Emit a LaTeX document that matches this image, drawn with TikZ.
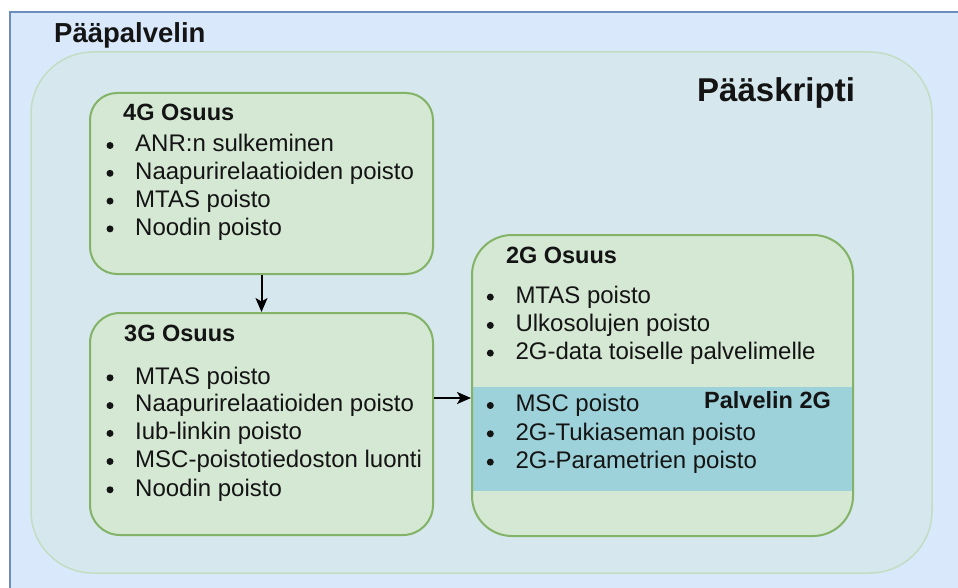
\documentclass[tikz,border=0pt]{standalone}
\usepackage{fontspec}
\setmainfont{Liberation Sans}
\usetikzlibrary{arrows.meta}

\definecolor{outerfill}{HTML}{DAE8FC}
\definecolor{outerline}{HTML}{6C8EBF}
\definecolor{scriptfill}{HTML}{D6E7EE}
\definecolor{scriptline}{HTML}{C3DDC3}
\definecolor{partfill}{HTML}{D5E8D4}
\definecolor{partline}{HTML}{82B366}
\definecolor{serverband}{HTML}{9ED2DA}
\definecolor{ink}{HTML}{141414}

\tikzset{
  partbox/.style={draw=partline, fill=partfill, line width=2pt,
    anchor=north west, inner sep=0pt},
  txt/.style={anchor=base west, inner sep=0pt, text=ink,
    font=\fontsize{24}{28}\selectfont},
  headtxt/.style={txt, font=\fontsize{23.5}{28}\selectfont\bfseries},
  dot/.style={circle, fill=ink, minimum size=7pt, inner sep=0pt},
  arr/.style={draw=black, line width=2pt,
    -{Stealth[length=14pt, width=12pt, inset=3.5pt]}},
}

% bullet item: name, bullet centre x, baseline y, text
\newcommand\bitem[4]{%
  \node[dot] (#1d) at (#2,#3-6.2) {};
  \node[txt] (#1) at (#2+25,#3) {#4};}

\begin{document}
\begin{tikzpicture}[x=1pt, y=-1pt]
\useasboundingbox (0,0) rectangle (958,588);
\fill[white] (0,0) rectangle (958,588);

% main server frame
\draw[fill=outerfill, draw=outerline, line width=2pt]
  (10,12) rectangle (975,605);
\node[txt, font=\fontsize{27.5}{32}\selectfont\bfseries] (server) at (54,42.3) {Pääpalvelin};

% main script area
\draw[fill=scriptfill, draw=scriptline, line width=1.5pt, rounded corners=62pt]
  (31,52) rectangle (932,573);
\node[txt, font=\fontsize{33}{38}\selectfont\bfseries] (script) at (697,101.7) {Pääskripti};

% 4G part
\node[partbox, rounded corners=27pt, minimum width=343pt, minimum height=181pt]
  (g4) at (89,92) {};
\node[headtxt] (g4h) at (123,120.7) {4G Osuus};
\bitem{a1}{110}{151.7}{ANR:n sulkeminen}
\bitem{a2}{110}{179.5}{Naapurirelaatioiden poisto}
\bitem{a3}{110}{207.3}{MTAS poisto}
\bitem{a4}{110}{235.1}{Noodin poisto}

% 3G part
\node[partbox, rounded corners=30pt, minimum width=343pt, minimum height=222pt]
  (g3) at (89,312) {};
\node[headtxt] (g3h) at (124,341.7) {3G Osuus};
\bitem{b1}{110}{384}{MTAS poisto}
\bitem{b2}{110}{411.8}{Naapurirelaatioiden poisto}
\bitem{b3}{110}{439.6}{Iub-linkin poisto}
\bitem{b4}{110}{467.7}{MSC-poistotiedoston luonti}
\bitem{b5}{110}{496}{Noodin poisto}

% 2G part with the 2G server band
\node[partbox, draw=none, rounded corners=40pt, minimum width=381pt, minimum height=301pt]
  (g2fill) at (471,234) {};
\fill[serverband] (471,387) rectangle (852,491);
\node[partbox, fill=none, rounded corners=40pt, minimum width=381pt, minimum height=301pt]
  (g2) at (471,234) {};
\node[headtxt] (g2h) at (505.8,263.3) {2G Osuus};
\bitem{c1}{490.3}{303.3}{MTAS poisto}
\bitem{c2}{490.3}{331.6}{Ulkosolujen poisto}
\bitem{c3}{490.3}{359.3}{2G-data toiselle palvelimelle}
\bitem{c4}{490.3}{411.7}{MSC poisto}
\bitem{c5}{490.3}{440}{2G-Tukiaseman poisto}
\bitem{c6}{490.3}{468.3}{2G-Parametrien poisto}
\node[headtxt] (band) at (704,408.3) {Palvelin 2G};

% flow between the parts
\draw[arr] (g4.south) -- (g3.north);
\draw[arr] ([yshift=26pt]g3.east) -- ([yshift=-12.5pt]g2.west);
\end{tikzpicture}
\end{document}
